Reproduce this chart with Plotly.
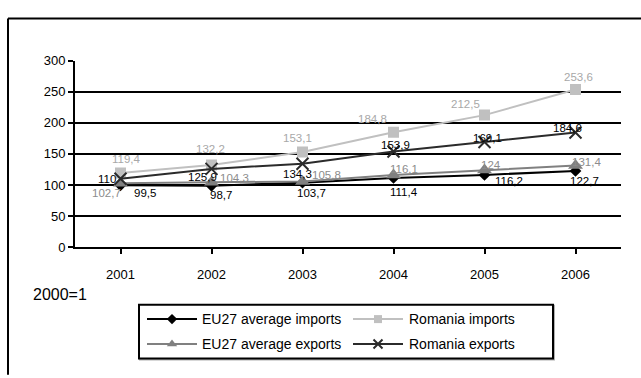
import plotly.graph_objects as go

# Trade indices, 2000 = 1 (values as index points)
years = ["2001", "2002", "2003", "2004", "2005", "2006"]
eu27_imports = [99.5, 98.7, 103.7, 111.4, 116.2, 122.7]
romania_imports = [119.4, 132.2, 153.1, 184.8, 212.5, 253.6]
eu27_exports = [102.7, 104.3, 105.8, 116.1, 124, 131.4]
romania_exports = [110, 125.9, 134.3, 153.9, 169.1, 184.6]

y_ticks = [0, 50, 100, 150, 200, 250, 300]

FONT = "Liberation Sans, Arial, sans-serif"
W, H = 641, 378


def px(x):
    """Pixel column -> paper fraction."""
    return x / W


def py(y):
    """Pixel row (from top) -> paper fraction."""
    return 1 - y / H


# name, values, line/marker colour, label colour, symbol, marker size,
# legend marker size, label offsets in px (dx, dy; dy measured downwards)
series = [
    ("EU27 average imports", eu27_imports, "#000000", "#000000", "diamond", 9, 8,
     [(24, 8), (9, 9), (9, 10), (10, 14), (24, 6), (9, 10)]),
    ("Romania imports", romania_imports, "#c0c0c0", "#a8a8a8", "square", 11, 8,
     [(6, -14), (-1, -16), (-5, -14), (-21, -13), (-19, -11), (3, -13)]),
    ("EU27 average exports", eu27_exports, "#808080", "#8c8c8c", "triangle-up", 13, 9,
     [(-14, 10), (23, -4), (24, -6), (10, -6), (6, -5), (11, -3)]),
    ("Romania exports", romania_exports, "#2b2b2b", "#000000", "x-thin", 12, 9,
     [(-14, 0), (-9, 8), (-5, 10), (2, -7), (3, -4), (-8, -4)]),
]

# legend slots: (line start, line end, text start, row centre) in px
legend_slots = [(147, 197, 200, 325), (353, 403, 407, 325),
                (147, 197, 200, 351), (353, 403, 407, 351)]
LEG_BOX = (139, 310, 553, 366)


def fmt(v):
    return f"{v:g}".replace(".", ",")


def marker_for(symbol, size, color):
    m = dict(symbol=symbol, size=size, color=color)
    if symbol == "x-thin":
        m["line"] = dict(color=color, width=2)
    return m


fig = go.Figure()
annotations = []
idx = list(range(len(years)))

for (name, vals, color, lab_color, symbol, size, lsize, offsets), slot in zip(series, legend_slots):
    fig.add_trace(go.Scatter(
        x=idx, y=vals, name=name, mode="lines+markers",
        line=dict(color=color, width=2), marker=marker_for(symbol, size, color),
        xaxis="x", yaxis="y", showlegend=False,
    ))
    for i, v, (dx, dy) in zip(idx, vals, offsets):
        annotations.append(dict(
            x=i, y=v, xref="x", yref="y", text=fmt(v), showarrow=False,
            xshift=dx, yshift=-dy,
            font=dict(family=FONT, size=11.5, color=lab_color),
        ))
    # legend sample: line with a marker in its middle
    x0, x1, tx, ry = slot
    fig.add_trace(go.Scatter(
        x=[px(x0), px(x1)], y=[py(ry), py(ry)], mode="lines",
        line=dict(color=color, width=2), xaxis="x2", yaxis="y2",
        showlegend=False, hoverinfo="skip",
    ))
    fig.add_trace(go.Scatter(
        x=[px((x0 + x1) / 2)], y=[py(ry)], mode="markers",
        marker=marker_for(symbol, lsize, color), xaxis="x2", yaxis="y2",
        showlegend=False, hoverinfo="skip",
    ))
    annotations.append(dict(
        x=px(tx), y=py(ry), xref="paper", yref="paper", text=name,
        showarrow=False, xanchor="left", yanchor="middle",
        font=dict(family=FONT, size=14, color="#000000"),
    ))

annotations.append(dict(
    x=px(31), y=py(299), xref="paper", yref="paper", text="2000=1",
    showarrow=False, xanchor="left", yanchor="middle",
    font=dict(family=FONT, size=16, color="#000000"),
))

bx0, by0, bx1, by1 = LEG_BOX
shapes = [
    # outer frame (top and left edges are in view)
    dict(type="line", xref="paper", yref="paper",
         x0=px(8), x1=px(W + 5), y0=py(12), y1=py(12),
         line=dict(color="#000000", width=2)),
    dict(type="line", xref="paper", yref="paper",
         x0=px(8), x1=px(8), y0=py(12), y1=py(H + 5),
         line=dict(color="#000000", width=2)),
    # legend box with a faint shadow
    dict(type="rect", xref="paper", yref="paper",
         x0=px(bx0 + 1), x1=px(bx1 + 1), y0=py(by0 + 1), y1=py(by1 + 1),
         line=dict(color="#b0b0b0", width=2), layer="below"),
    dict(type="rect", xref="paper", yref="paper",
         x0=px(bx0), x1=px(bx1), y0=py(by0), y1=py(by1),
         line=dict(color="#000000", width=2), fillcolor="white", layer="below"),
]

fig.update_layout(
    width=W, height=H,
    margin=dict(l=0, r=0, t=0, b=0),
    paper_bgcolor="white", plot_bgcolor="rgba(0,0,0,0)",
    font=dict(family=FONT, color="#000000"),
    annotations=annotations, shapes=shapes, showlegend=False,
    xaxis=dict(
        domain=[px(75), px(621)], anchor="y",
        tickmode="array", tickvals=idx, ticktext=years,
        showgrid=False, showline=True, linecolor="#000000", linewidth=2,
        ticks="outside", ticklen=5, tickcolor="#000000", tickwidth=2,
        ticklabelstandoff=9, range=[-0.5, 5.5], zeroline=False,
        tickfont=dict(family=FONT, size=13, color="#000000"),
    ),
    yaxis=dict(
        domain=[py(250), py(56)], anchor="x",
        range=[0, 300], tickvals=y_ticks, showgrid=True, gridcolor="#000000",
        gridwidth=2, showline=True, linecolor="#000000", linewidth=2,
        ticks="outside", ticklen=5, tickcolor="#000000", tickwidth=2,
        zeroline=False, tickfont=dict(family=FONT, size=13, color="#000000"),
    ),
    xaxis2=dict(domain=[0, 1], range=[0, 1], anchor="y2", visible=False,
                fixedrange=True),
    yaxis2=dict(domain=[0, 1], range=[0, 1], anchor="x2", visible=False,
                fixedrange=True),
)

fig.write_html("out.html")
